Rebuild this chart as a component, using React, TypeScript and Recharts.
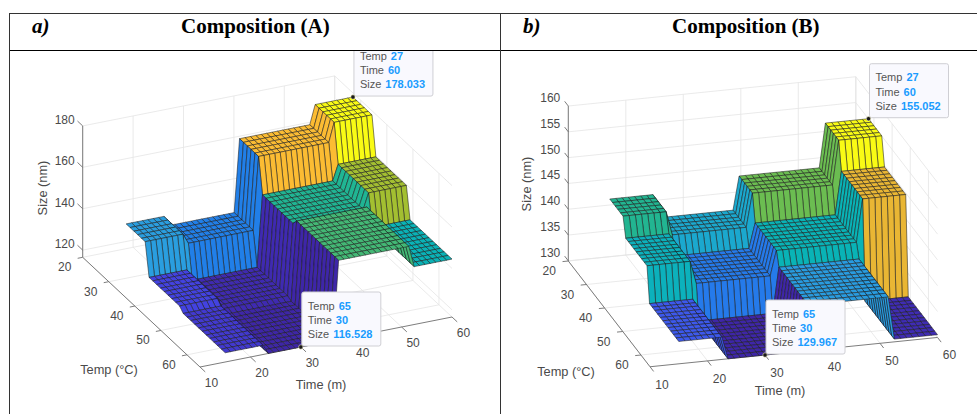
import React from 'react';
import { ScatterChart, Scatter, XAxis, YAxis } from 'recharts';

// surface mesh, one facet per step
const meshTime = [15, 16.07, 17.14, 18.21, 19.29, 20.36, 21.43, 22.5, 23.57, 24.64, 25.71, 26.79, 27.86, 28.93, 30, 31.07, 32.14, 33.21, 34.29, 35.36, 36.43, 37.5, 38.57, 39.64, 40.71, 41.79, 42.86, 43.93, 45, 46.07, 47.14, 48.21, 49.29, 50.36, 51.43, 52.5, 53.57, 54.64, 55.71, 56.79, 57.86, 58.93, 60];
const meshTemp = [27, 28.5, 30, 31.4, 32.9, 34.3, 35.8, 37.2, 38.7, 40.2, 41.6, 43.1, 44.5, 46, 47.5, 48.9, 50.4, 51.8, 53.3, 54.8, 56.2, 57.7, 59.1, 60.6, 62, 63.5, 65];

// where each measured plateau starts
const timeLevels = [15, 23.57, 37.5, 52.5];
const tempLevels = [27, 35.8, 48.9];

const sizeA27 = [138.5, 133.6, 168.8, 178.033];
const sizeA36 = [123, 117.5, 152, 159.5];
const sizeA49 = [121, 116.528, 154.8, 144.5];

const sizeB27 = [144.6, 140, 146.5, 155.052];
const sizeB36 = [141, 136.6, 141.4, 149.7];
const sizeB49 = [134.3, 129.967, 138.8, 130.5];

const timeTicks = [10, 20, 30, 40, 50, 60];
const tempTicks = [20, 30, 40, 50, 60];
const sizeTicksA = [120, 140, 160, 180];
const sizeTicksB = [130, 135, 140, 145, 150, 155, 160];

const tipsA = [{ temp: 27, time: 60, size: 178.033 }, { temp: 65, time: 30, size: 116.528 }];
const tipsB = [{ temp: 27, time: 60, size: 155.052 }, { temp: 65, time: 30, size: 129.967 }];

const parulaStops: [number, string][] = [
  [0, '#3e26a8'], [0.1, '#4440e0'], [0.2, '#3a62f2'], [0.28, '#2080e8'], [0.36, '#2a9fdf'], [0.45, '#08b3b8'],
  [0.59, '#23b58f'], [0.63, '#4bb96f'], [0.66, '#6cbd50'], [0.7, '#a5bf30'], [0.79, '#ecb634'], [0.85, '#fbbc33'],
  [0.92, '#fad028'], [1, '#f9fb15'],
];

const CHART_H = 363;
const FONT = '"Liberation Sans", Arial, sans-serif';
const LABEL = '#4a4a4a';

interface View {
  width: number;
  origin: number[];
  perTime: number[];
  perTemp: number[];
  perSize: number;
  sizeMin: number;
  sizeMax: number;
  sizeTop: number;
}

const viewA: View = {
  width: 490, origin: [72.7, 206.3], perTime: [5.04, -1], perTemp: [2.607, 2.438], perSize: 2.07,
  sizeMin: 116.528, sizeMax: 178.033, sizeTop: 180,
};
const viewB: View = {
  width: 476, origin: [67.3, 210], perTime: [5.75, -0.586], perTemp: [1.816, 2.35], perSize: 5.16,
  sizeMin: 129.967, sizeMax: 155.052, sizeTop: 160,
};

function project(v: View, time: number, temp: number, size: number) {
  return {
    x: v.origin[0] + (time - 10) * v.perTime[0] + (temp - 20) * v.perTemp[0],
    y: v.origin[1] + (time - 10) * v.perTime[1] + (temp - 20) * v.perTemp[1] - (size - v.sizeMin) * v.perSize,
  };
}

function hex(c: string) {
  return [1, 3, 5].map((i) => parseInt(c.slice(i, i + 2), 16));
}

function parula(f: number) {
  for (let i = 1; i < parulaStops.length; i++) {
    if (f <= parulaStops[i][0]) {
      const [f0, c0] = parulaStops[i - 1];
      const [f1, c1] = parulaStops[i];
      const k = (f - f0) / (f1 - f0);
      const a = hex(c0);
      const b = hex(c1);
      return `rgb(${a.map((p, n) => Math.round(p + (b[n] - p) * k)).join(',')})`;
    }
  }
  return parulaStops[parulaStops.length - 1][1];
}

function levelIndex(levels: number[], value: number) {
  let idx = 0;
  levels.forEach((l, i) => {
    if (value >= l) idx = i;
  });
  return idx;
}

function sizeAt(rows: number[][], time: number, temp: number) {
  return rows[levelIndex(tempLevels, temp)][levelIndex(timeLevels, time)];
}

// back to front: low temp first, high time first
function buildFacets(v: View, rows: number[][]) {
  const corners: { x: number; y: number }[] = [];
  const colors: string[] = [];
  for (let i = 0; i < meshTemp.length - 1; i++) {
    for (let j = meshTime.length - 2; j >= 0; j--) {
      const t0 = meshTime[j];
      const t1 = meshTime[j + 1];
      const T0 = meshTemp[i];
      const T1 = meshTemp[i + 1];
      corners.push(
        project(v, t0, T0, sizeAt(rows, t0, T0)),
        project(v, t1, T0, sizeAt(rows, t1, T0)),
        project(v, t1, T1, sizeAt(rows, t1, T1)),
        project(v, t0, T1, sizeAt(rows, t0, T1)),
      );
      colors.push(parula((sizeAt(rows, t0, T0) - v.sizeMin) / (v.sizeMax - v.sizeMin)));
    }
  }
  return { corners, colors };
}

function buildGrid(v: View, sizeTicks: number[]) {
  const pts: { x: number; y: number }[] = [];
  const seg = (a: number[], b: number[]) => pts.push(project(v, a[0], a[1], a[2]), project(v, b[0], b[1], b[2]));
  timeTicks.forEach((t) => {
    seg([t, 20, v.sizeMin], [t, 20, v.sizeTop]);
    seg([t, 20, v.sizeMin], [t, 65, v.sizeMin]);
  });
  tempTicks.forEach((T) => {
    seg([60, T, v.sizeMin], [60, T, v.sizeTop]);
    seg([10, T, v.sizeMin], [60, T, v.sizeMin]);
  });
  sizeTicks.forEach((s) => {
    seg([10, 20, s], [60, 20, s]);
    seg([60, 20, s], [60, 65, s]);
  });
  return pts;
}

function buildAxes(v: View, sizeTicks: number[]) {
  const pts: { x: number; y: number }[] = [];
  const seg = (a: number[], b: number[]) => pts.push(project(v, a[0], a[1], a[2]), project(v, b[0], b[1], b[2]));
  seg([10, 20, v.sizeMin], [10, 20, v.sizeTop]);
  seg([10, 20, v.sizeMin], [10, 65, v.sizeMin]);
  seg([10, 65, v.sizeMin], [60, 65, v.sizeMin]);
  timeTicks.forEach((t) => seg([t, 65, v.sizeMin], [t, 67, v.sizeMin]));
  tempTicks.forEach((T) => seg([10, T, v.sizeMin], [9, T, v.sizeMin]));
  sizeTicks.forEach((s) => seg([10, 20, s], [10, 18, s]));
  return pts;
}

const noSymbol = () => null;

function Segments({ points, stroke, width }: any) {
  const out = [];
  for (let i = 0; i + 1 < points.length; i += 2) {
    out.push(<line key={i} x1={points[i].x} y1={points[i].y} x2={points[i + 1].x} y2={points[i + 1].y} />);
  }
  return <g stroke={stroke} strokeWidth={width} fill="none">{out}</g>;
}

function Facets({ points, colors }: any) {
  const out = [];
  for (let i = 0; i + 3 < points.length; i += 4) {
    const p = points.slice(i, i + 4).map((c: any) => `${c.x},${c.y}`).join(' ');
    out.push(<polygon key={i} points={p} fill={colors[i / 4]} />);
  }
  return <g stroke="#1c1c1c" strokeWidth={0.55} strokeLinejoin="round">{out}</g>;
}

function TickLabel(props: any) {
  const { cx, cy, payload } = props;
  return (
    <text x={cx + payload.dx} y={cy + payload.dy} textAnchor={payload.anchor} dominantBaseline="central"
      fontFamily={FONT} fontSize={12} fill={LABEL}>
      {payload.label}
    </text>
  );
}

function DataTip(props: any) {
  const { cx, cy, payload } = props;
  const left = cx + 1;
  const top = cy - 55;
  const rows = [['Temp', payload.temp], ['Time', payload.time], ['Size', payload.size.toFixed(3)]];
  return (
    <g>
      <rect x={left} y={top} width={79} height={54} rx={2} fill="#f9f9fe" stroke="#cfcfd4" />
      {rows.map(([name, value], i) => (
        <text key={name} x={left + 6} y={top + 17.5 + i * 14.3} fontFamily={FONT} fontSize={11} fill="#555">
          {name}
          <tspan dx={4} fontWeight="bold" fill="#1a9cff">{value}</tspan>
        </text>
      ))}
      <circle cx={cx} cy={cy} r={2.2} fill="#1a1a1a" stroke="#f3efc4" strokeWidth={0.6} />
    </g>
  );
}

function Panel({ view, rows, sizeTicks, tips, left, sizeOffset, timeOffset, tempOffset, titles }: any) {
  const { corners, colors } = buildFacets(view, rows);
  const grid = buildGrid(view, sizeTicks);
  const axes = buildAxes(view, sizeTicks);
  const labels = [
    ...sizeTicks.map((s: number) => ({
      ...project(view, 10, 20, s), label: s, dx: sizeOffset[0], dy: sizeOffset[1], anchor: 'end',
    })),
    ...timeTicks.map((t) => ({
      ...project(view, t, 65, view.sizeMin), label: t, dx: timeOffset[0], dy: timeOffset[1], anchor: 'middle',
    })),
    ...tempTicks.map((T) => ({
      ...project(view, 10, T, view.sizeMin), label: T, dx: tempOffset[0], dy: tempOffset[1], anchor: 'middle',
    })),
  ];
  const tipPoints = tips.map((d: any) => ({ ...d, ...project(view, d.time, d.temp, d.size) }));
  return (
    <div style={{ position: 'absolute', left, top: 51 }}>
      <ScatterChart width={view.width} height={CHART_H} margin={{ top: 0, right: 0, bottom: 0, left: 0 }}>
        <XAxis type="number" dataKey="x" domain={[0, view.width]} hide />
        <YAxis type="number" dataKey="y" domain={[0, CHART_H]} reversed hide />
        <Scatter data={grid} isAnimationActive={false} shape={noSymbol}
          line={(p: any) => <Segments points={p.points} stroke="#e4e4e4" width={0.8} />} />
        <Scatter data={axes} isAnimationActive={false} shape={noSymbol}
          line={(p: any) => <Segments points={p.points} stroke="#6e6e6e" width={0.9} />} />
        <Scatter data={corners} isAnimationActive={false} shape={noSymbol}
          line={(p: any) => <Facets points={p.points} colors={colors} />} />
        <Scatter data={labels} isAnimationActive={false} shape={TickLabel} />
        <Scatter data={tipPoints} isAnimationActive={false} shape={DataTip} />
        <text x={titles.size[0]} y={titles.size[1]} textAnchor="middle" dominantBaseline="central" fontFamily={FONT}
          fontSize={12.8} fill={LABEL} transform={`rotate(-90 ${titles.size[0]} ${titles.size[1]})`}>Size (nm)</text>
        <text x={titles.temp[0]} y={titles.temp[1]} textAnchor="middle" dominantBaseline="central" fontFamily={FONT}
          fontSize={12.8} fill={LABEL}>Temp (°C)</text>
        <text x={titles.time[0]} y={titles.time[1]} textAnchor="middle" dominantBaseline="central" fontFamily={FONT}
          fontSize={12.8} fill={LABEL}>Time (m)</text>
      </ScatterChart>
    </div>
  );
}

const rule = (left: number, top: number, width: number, height: number, background = '#111'): React.CSSProperties => ({
  position: 'absolute', left, top, width, height, background,
});

const headStyle = (left: number, italic: boolean): React.CSSProperties => ({
  position: 'absolute', left, top: 14, fontFamily: '"Liberation Serif", serif', fontWeight: 'bold',
  fontStyle: italic ? 'italic' : 'normal', fontSize: 21, lineHeight: '24px', color: '#000', whiteSpace: 'nowrap',
});

export default function App() {
  return (
    <div style={{ position: 'absolute', left: 0, top: 0, width: 977, height: 414, overflow: 'hidden', background: '#fff' }}>
      <Panel view={viewA} rows={[sizeA27, sizeA36, sizeA49]} sizeTicks={sizeTicksA} tips={tipsA} left={10}
        sizeOffset={[-8, -6]} timeOffset={[11.5, 15.5]} tempOffset={[-18, 10]}
        titles={{ size: [32, 137], temp: [99, 318], time: [311, 333] }} />
      <Panel view={viewB} rows={[sizeB27, sizeB36, sizeB49]} sizeTicks={sizeTicksB} tips={tipsB} left={501}
        sizeOffset={[-8, -8]} timeOffset={[12, 18]} tempOffset={[-19, 10]}
        titles={{ size: [25, 133], temp: [65, 320], time: [279, 339] }} />
      <div style={rule(9, 13, 968, 1, '#333')} />
      <div style={rule(9, 50, 968, 1, '#000')} />
      <div style={rule(9, 13, 1, 401, '#333')} />
      <div style={rule(500, 13, 1, 401, '#333')} />
      <div style={headStyle(32, true)}>a)</div>
      <div style={headStyle(181, false)}>Composition (A)</div>
      <div style={headStyle(523, true)}>b)</div>
      <div style={headStyle(672, false)}>Composition (B)</div>
    </div>
  );
}
